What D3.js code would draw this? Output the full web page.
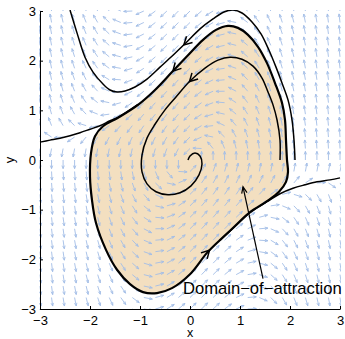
<!DOCTYPE html>
<html>
<head>
<meta charset="utf-8">
<script src="https://cdn.jsdelivr.net/npm/d3@7"></script>
<style>
  body { margin: 0; background: #fff; }
  svg { display: block; font-family: "Liberation Sans", Arial, Helvetica, sans-serif; }
</style>
</head>
<body>
<svg id="chart" width="345" height="339"></svg>
<script>
// tick values
const xTicks = [-3, -2, -1, 0, 1, 2, 3];
const yTicks = [-3, -2, -1, 0, 1, 2, 3];

// quiver grid, 27 points each way on [-3, 3]
const gridX = [-3, -2.769, -2.538, -2.308, -2.077, -1.846, -1.615, -1.385, -1.154, -0.923,
  -0.692, -0.462, -0.231, 0, 0.231, 0.462, 0.692, 0.923, 1.154, 1.385, 1.615, 1.846,
  2.077, 2.308, 2.538, 2.769, 3];
const gridY = gridX.slice();

// the system drawn by the quiver: x' = -y, y' = x - (1 - x^2) y
function field(px, py) { return [-py, px - (1 - px * px) * py]; }

// boundary of the domain of attraction (closed, in flow order)
const cycle = [
  [1.94, 0.00], [1.92, 0.40], [1.90, 0.81], [1.84, 1.15], [1.70, 1.55], [1.54, 1.95],
  [1.36, 2.28], [1.16, 2.52], [0.96, 2.66], [0.76, 2.70], [0.52, 2.62], [0.26, 2.42],
  [-0.04, 2.11], [-0.36, 1.77], [-0.70, 1.41], [-1.04, 1.11], [-1.44, 0.85], [-1.74, 0.68],
  [-1.90, 0.48], [-1.98, 0.14], [-2.00, -0.34], [-1.96, -0.81], [-1.88, -1.27], [-1.68, -1.81],
  [-1.46, -2.21], [-1.20, -2.50], [-0.94, -2.66], [-0.66, -2.68], [-0.36, -2.58], [0.00, -2.30],
  [0.34, -1.87], [0.60, -1.61], [0.90, -1.33], [1.20, -1.05], [1.54, -0.83], [1.78, -0.64],
  [1.92, -0.44], [1.96, -0.24]
];

// trajectory leaving just outside the boundary, towards the upper left
const outerPath = [
  [2.10, 0.00], [2.08, 0.40], [2.04, 0.81], [1.96, 1.21], [1.84, 1.55], [1.72, 1.87],
  [1.58, 2.21], [1.42, 2.54], [1.24, 2.78], [1.04, 2.96], [0.86, 3.02], [0.68, 2.98],
  [0.46, 2.84], [0.20, 2.64], [-0.06, 2.38], [-0.34, 2.11], [-0.60, 1.87], [-0.86, 1.63],
  [-1.10, 1.47], [-1.30, 1.39], [-1.46, 1.37], [-1.60, 1.41], [-1.74, 1.53], [-1.94, 1.77],
  [-2.10, 2.07], [-2.26, 2.56], [-2.40, 3.02]
];

// trajectory starting inside, spiralling into the origin
const innerPath = [
  [1.80, 0.00], [1.80, 0.40], [1.74, 0.81], [1.66, 1.11], [1.56, 1.37], [1.44, 1.65],
  [1.26, 1.89], [1.04, 2.03], [0.80, 2.07], [0.56, 2.01], [0.30, 1.85], [0.00, 1.59],
  [-0.28, 1.27], [-0.50, 1.01], [-0.70, 0.72], [-0.86, 0.44], [-0.96, 0.10], [-0.96, -0.24],
  [-0.86, -0.48], [-0.68, -0.64], [-0.44, -0.70], [-0.20, -0.66], [0.02, -0.52], [0.18, -0.30],
  [0.24, -0.08], [0.20, 0.08], [0.10, 0.14], [0.00, 0.08], [-0.04, 0.00]
];

// trajectories that follow the boundary and then leave it
const leftPath = [
  [-1.04, 1.12], [-1.44, 0.86], [-1.60, 0.79], [-1.80, 0.69], [-2.00, 0.62], [-2.20, 0.55],
  [-2.40, 0.49], [-2.60, 0.44], [-2.80, 0.40], [-3.00, 0.36]
];
const rightPath = [
  [0.60, -1.62], [0.90, -1.34], [1.20, -1.06], [1.54, -0.84], [1.80, -0.68], [2.06, -0.57],
  [2.30, -0.50], [2.54, -0.44], [2.80, -0.40], [3.00, -0.36]
];

// direction arrows on the trajectories (which curve, near which point)
const flowArrows = [
  { curve: "outer", near: [-0.16, 2.36] },
  { curve: "cycle", near: [-0.36, 1.81] },
  { curve: "inner", near: [-0.04, 1.61] },
  { curve: "cycle", near: [0.36, -1.79] }
];

const labelText = "Domain\u2212of\u2212attraction";
const labelAt = [-0.14, -2.70];
const pointerFrom = [1.46, -2.39];
const pointerTo = [1.06, -0.54];

// ---------------------------------------------------------------
const svg = d3.select("#chart");
const x = d3.scaleLinear().domain([-3, 3]).range([40, 340]);
const y = d3.scaleLinear().domain([-3, 3]).range([309, 11]);

svg.append("defs").append("clipPath").attr("id", "plotclip")
  .append("rect").attr("x", 39).attr("y", 10).attr("width", 302).attr("height", 300);

const line = d3.line().x(d => x(d[0])).y(d => y(d[1])).curve(d3.curveCatmullRom.alpha(0.5));
const closed = d3.line().x(d => x(d[0])).y(d => y(d[1])).curve(d3.curveCatmullRomClosed.alpha(0.5));

// shaded domain
const plot = svg.append("g").attr("clip-path", "url(#plotclip)");
plot.append("path").attr("d", closed(cycle)).attr("fill", "#f3dfc0").attr("stroke", "none");

// axes
const fmt = d3.format("d");
const xAxis = svg.append("g").attr("transform", "translate(0,309)")
  .call(d3.axisBottom(x).tickValues(xTicks).tickFormat(fmt)
    .tickSizeInner(-3).tickSizeOuter(0).tickPadding(7));
const yAxis = svg.append("g").attr("transform", "translate(40,0)")
  .call(d3.axisLeft(y).tickValues(yTicks).tickFormat(fmt)
    .tickSizeInner(-3).tickSizeOuter(0).tickPadding(4));
[xAxis, yAxis].forEach(g => {
  g.selectAll("text").attr("font-size", 13).attr("fill", "#000")
    .attr("font-family", '"Liberation Sans", Arial, sans-serif');
  g.selectAll("path,line").attr("stroke", "#000");
});

// quiver
const step = gridX[1] - gridX[0];
const qLen = 0.75 * step;
const quiver = plot.append("g").attr("stroke", "#a3bde6").attr("stroke-width", 0.9).attr("fill", "none");
gridX.forEach(gx => gridY.forEach(gy => {
  const v = field(gx, gy);
  const n = Math.hypot(v[0], v[1]) || 1;
  const u = v[0] / n * qLen, w = v[1] / n * qLen;
  const tx = gx + u, ty = gy + w;
  const a = 0.35, b = 0.4;
  const h1 = [tx - a * (u + b * w), ty - a * (w - b * u)];
  const h2 = [tx - a * (u - b * w), ty - a * (w + b * u)];
  quiver.append("path").attr("d",
    `M${x(gx)},${y(gy)}L${x(tx)},${y(ty)}M${x(h1[0])},${y(h1[1])}L${x(tx)},${y(ty)}L${x(h2[0])},${y(h2[1])}`);
}));

// trajectories
const curves = {};
curves.cycle = plot.append("path").attr("d", closed(cycle))
  .attr("fill", "none").attr("stroke", "#000").attr("stroke-width", 2.2);
curves.left = plot.append("path").attr("d", line(leftPath))
  .attr("fill", "none").attr("stroke", "#000").attr("stroke-width", 1.5);
curves.right = plot.append("path").attr("d", line(rightPath))
  .attr("fill", "none").attr("stroke", "#000").attr("stroke-width", 1.5);
curves.outer = plot.append("path").attr("d", line(outerPath))
  .attr("fill", "none").attr("stroke", "#000").attr("stroke-width", 1.5);
curves.inner = plot.append("path").attr("d", line(innerPath))
  .attr("fill", "none").attr("stroke", "#000").attr("stroke-width", 1.5);

function arrowHead(g, tip, dir, len, ang, width) {
  const pts = [-ang, ang].map(t => {
    const c = Math.cos(t), s = Math.sin(t);
    const bx = -(dir[0] * c - dir[1] * s), by = -(dir[0] * s + dir[1] * c);
    return [tip[0] + bx * len, tip[1] + by * len];
  });
  g.append("path").attr("d", `M${pts[0]}L${tip}L${pts[1]}`)
    .attr("fill", "none").attr("stroke", "#000").attr("stroke-width", width)
    .attr("stroke-linejoin", "miter");
}

flowArrows.forEach(fa => {
  const node = curves[fa.curve].node();
  const total = node.getTotalLength();
  const target = [x(fa.near[0]), y(fa.near[1])];
  let best = 0, bestD = Infinity;
  for (let s = 0; s <= total; s += 0.5) {
    const p = node.getPointAtLength(s);
    const d = (p.x - target[0]) ** 2 + (p.y - target[1]) ** 2;
    if (d < bestD) { bestD = d; best = s; }
  }
  const p0 = node.getPointAtLength(Math.max(0, best - 2));
  const p1 = node.getPointAtLength(Math.min(total, best + 2));
  const dl = Math.hypot(p1.x - p0.x, p1.y - p0.y);
  const tip = node.getPointAtLength(best);
  arrowHead(plot, [tip.x, tip.y], [(p1.x - p0.x) / dl, (p1.y - p0.y) / dl], 9, 0.5, 1.5);
});

// annotation
const ann = svg.append("g");
const pf = [x(pointerFrom[0]), y(pointerFrom[1])], pt = [x(pointerTo[0]), y(pointerTo[1])];
ann.append("line").attr("x1", pf[0]).attr("y1", pf[1]).attr("x2", pt[0]).attr("y2", pt[1])
  .attr("stroke", "#000").attr("stroke-width", 1.2);
const pl = Math.hypot(pt[0] - pf[0], pt[1] - pf[1]);
arrowHead(ann, pt, [(pt[0] - pf[0]) / pl, (pt[1] - pf[1]) / pl], 7, 0.4, 1.2);
ann.append("text").attr("x", x(labelAt[0])).attr("y", y(labelAt[1]))
  .attr("font-size", 16.6).attr("fill", "#000").text(labelText);

// axis labels
svg.append("text").attr("x", x(0)).attr("y", 337).attr("text-anchor", "middle")
  .attr("font-size", 12.5).text("x");
svg.append("text").attr("transform", `translate(14,${y(0)}) rotate(-90)`)
  .attr("text-anchor", "middle").attr("font-size", 13).text("y");
</script>
</body>
</html>
